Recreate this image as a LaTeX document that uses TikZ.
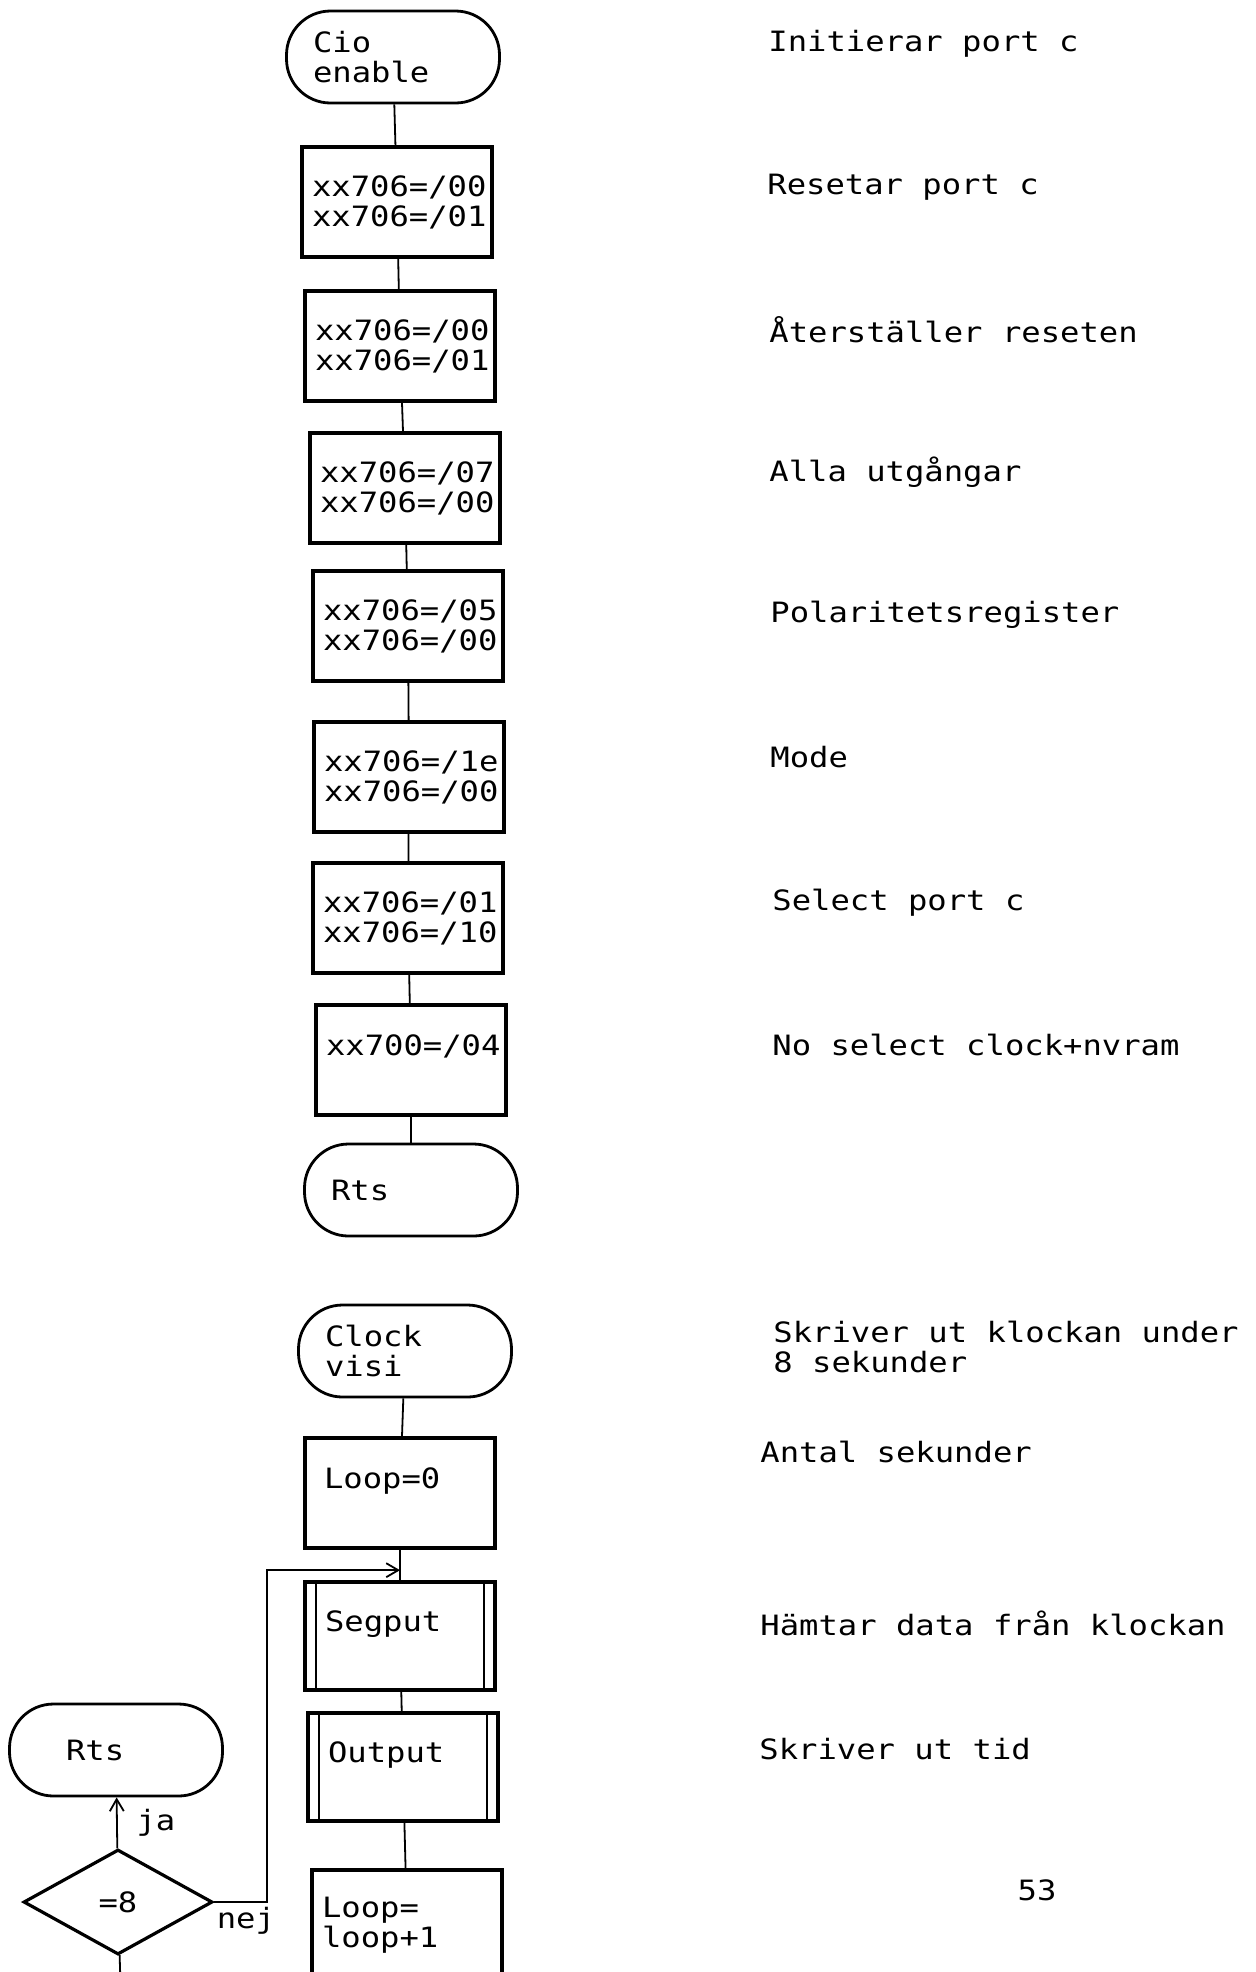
\documentclass[tikz,border=0pt]{standalone}
\usepackage{fontspec}
\usetikzlibrary{arrows.meta,positioning,shapes.geometric,calc}
\newfontfamily\dotfont[FakeStretch=1.15]{DejaVu Sans Mono}
\tikzset{
  terminal/.style={rectangle,rounded corners=22pt,draw,line width=1.4pt,align=left,text width=80pt,minimum width=106.5pt,minimum height=46pt,inner sep=0pt},
  opbox/.style={rectangle,draw,line width=1.8pt,align=left,text width=85pt,minimum width=95pt,minimum height=55pt,inner sep=0pt},
  subproc/.style={opbox,text width=75pt,minimum height=54pt},
  decision/.style={diamond,draw,line width=1.6pt,aspect=1.8,minimum width=94.5pt,minimum height=52.5pt,inner sep=0pt},
  link/.style={line width=0.9pt},
  flow/.style={link,-{Straight Barb[length=6pt,width=7pt]}},
  note/.style={anchor=west,align=left,inner sep=0pt}
}
\begin{document}
\begin{tikzpicture}[x=0.5pt,y=-0.5pt,font=\dotfont\fontsize{14pt}{15pt}\selectfont]
    \useasboundingbox (0,0) rectangle (1256,1972);
    \node[terminal] (cio) at (393,57) {Cio\\enable};
    \node[opbox] (b1) at (397,202) {xx706=/00\\xx706=/01};
    \node[opbox] (b2) at (400,346) {xx706=/00\\xx706=/01};
    \node[opbox] (b3) at (405,488) {xx706=/07\\xx706=/00};
    \node[opbox] (b4) at (408,626) {xx706=/05\\xx706=/00};
    \node[opbox] (b5) at (409,777) {xx706=/1e\\xx706=/00};
    \node[opbox] (b6) at (408,918) {xx706=/01\\xx706=/10};
    \node[opbox] (b7) at (411,1060) {xx700=/04\\~};
    \node[terminal] (rts1) at (411,1190) {Rts};
    \draw[link] (cio) -- (b1);
    \draw[link] (b1) -- (b2);
    \draw[link] (b2) -- (b3);
    \draw[link] (b3) -- (b4);
    \draw[link] (b4) -- (b5);
    \draw[link] (b5) -- (b6);
    \draw[link] (b6) -- (b7);
    \draw[link] (b7) -- (rts1);

    \node[note] (n1) at (768,44) {Initierar port c};
    \node[note] (n2) at (767,187) {Resetar port c};
    \node[note] (n3) at (769,330) {Återställer reseten};
    \node[note] (n4) at (769,472) {Alla utgångar};
    \node[note] (n5) at (770,615) {Polaritetsregister};
    \node[note] (n6) at (770,757) {Mode};
    \node[note] (n7) at (772,903) {Select port c};
    \node[note] (n8) at (772,1045) {No select clock+nvram};

    \node[terminal] (clock) at (405,1351) {Clock\\visi};
    \node[opbox,text width=76pt] (loop0) at (400,1493) {Loop=0\\~};
    \node[subproc] (segput) at (400,1636) {Segput\\~};
    \node[subproc] (output) at (403,1767) {Output\\~};
    \node[opbox] (loopinc) at (407,1925) {Loop=\\loop+1};
    \node[terminal,text width=50pt] (rts2) at (116,1750) {Rts};
    \node[decision] (dia) at (118,1902) {=8};
    \foreach \n in {segput,output}{
      \draw[link] ([xshift=6.5pt]\n.north west) -- ([xshift=6.5pt]\n.south west);
      \draw[link] ([xshift=-6.5pt]\n.north east) -- ([xshift=-6.5pt]\n.south east);
    }
    \coordinate (merge) at ($(loop0.south)!0.67!(segput.north)$);
    \coordinate (exit) at (121,2000);
    \draw[link] (clock) -- (loop0);
    \draw[link] (loop0) -- (segput);
    \draw[link] (segput) -- (output);
    \draw[link] (output) -- (loopinc);
    \draw[flow] (dia) -- node[right=6pt] {ja} (rts2);
    \draw[flow] (dia.east) -- node[below,pos=0.6,inner sep=2pt] {nej} ++(53,0) |- (merge);
    \draw[link] (dia) -- (exit);

    \node[note] (n9) at (773,1347) {Skriver ut klockan under\\8 sekunder};
    \node[note] (n10) at (760,1452) {Antal sekunder};
    \node[note] (n11) at (760,1623) {Hämtar data från klockan};
    \node[note] (n12) at (759,1749) {Skriver ut tid};
    \node (pagenum) at (1037,1890) {53};
  \end{tikzpicture}
\end{document}
